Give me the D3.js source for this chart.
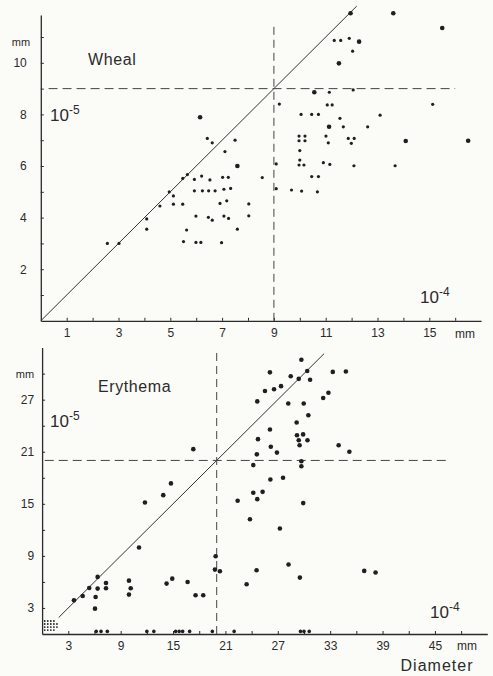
<!DOCTYPE html>
<html lang='en'>
  <meta charset='utf-8'>
  <style>
    body{
      margin: 0;
      background: #fbfbf8;
    }
    svg{
      display: block;
    }
    text{
      font-family: 'Liberation Sans', Arial, sans-serif;
      fill: #2b2b2b;
    }
    .tick text{
      font-size: 12px;
    }
    .tick line, .domain{
      stroke: #2b2b2b;
    }
  </style>
  <body>
    <svg width='493' height='676'></svg>

    <script src='https://cdn.jsdelivr.net/npm/d3@7'></script>
    <script>
      // Wheal: [diameter 10^-4, diameter 10^-5]
      const whealSmall = [
        [2.57,3.0],[3.02,3.0],[4.09,3.95],[4.09,3.55],[4.6,4.45],[4.96,5.0],[5.12,4.84],[5.12,4.52],
        [5.48,5.52],[5.66,5.67],[5.48,4.52],[5.63,3.52],[5.51,3.07],[5.93,5.48],[6.21,5.61],[5.93,5.04],
        [6.24,5.04],[6.53,5.46],[6.48,5.04],[6.73,5.04],[7.02,5.56],[7.24,5.56],[7.07,5.1],[7.33,5.13],
        [7.11,6.56],[7.5,7.0],[6.43,7.07],[6.62,6.9],[6.92,4.55],[7.18,4.65],[5.99,4.06],[7.07,4.06],
        [6.47,4.01],[6.62,3.9],[7.25,3.97],[8.03,4.53],[8.03,4.07],[7.59,3.55],[5.99,3.04],[6.18,3.04],
        [6.98,3.03],[8.55,5.55],[9.09,6.08],[9.09,5.12],[9.21,8.4],[9.68,5.07],[10.07,5.03],[9.97,6.04],
        [10.16,6.04],[10.0,6.23],[10.0,6.6],[9.97,7.16],[10.2,7.16],[9.97,6.98],[10.2,6.98],[10.05,8.0],
        [10.46,8.0],[10.72,8.0],[11.14,8.86],[11.06,8.37],[11.25,8.37],[10.46,5.59],[10.72,5.59],[10.68,5.0],
        [10.91,6.13],[11.16,6.06],[11.01,7.16],[11.1,6.9],[11.55,7.85],[11.68,7.52],[11.87,7.07],[12.1,7.07],
        [11.99,6.88],[12.09,6.01],[12.06,8.95],[12.62,7.52],[13.1,7.97],[13.68,6.01],[15.13,8.39],
        [11.33,10.87],[11.58,10.87],[11.91,10.95],[12.04,10.45]
      ]
      const whealBig = [
        [6.15,7.89],[7.59,6.0],[10.56,8.86],[11.13,7.52],[14.09,6.97],[16.5,6.98],[11.96,11.92],
        [13.61,11.92],[15.5,11.35],[11.51,9.98],[12.29,10.82]
      ]

      // Erythema
      const erythemaBig = [
        [3.65,3.88],[4.65,4.38],[5.4,5.3],[6.36,6.58],[6.36,5.23],[6.13,4.27],[6.06,2.92],[7.32,5.88],
        [7.32,5.27],[9.95,6.15],[10.15,5.27],[9.95,4.54],[11.1,9.96],[11.78,15.15],[13.88,16.0],[14.76,17.35],
        [14.26,5.81],[14.91,6.38],[16.67,6.0],[17.58,4.46],[18.46,4.46],[17.32,21.3],[19.88,8.96],[19.8,7.42],
        [20.37,7.23],[22.4,15.35],[23.43,5.73],[23.81,13.23],[24.19,19.46],[24.19,16.27],[24.65,15.54],
        [25.26,16.38],[24.6,20.7],[24.73,22.45],[24.65,26.8],[24.57,7.35],[25.53,28.0],[26.1,30.15],
        [26.1,23.57],[26.2,21.57],[26.15,17.8],[26.57,28.2],[27.37,28.56],[26.9,20.9],[27.6,18.0],
        [27.24,12.15],[28.2,26.56],[28.23,8.0],[28.48,29.7],[29.7,31.6],[29.16,24.37],[29.2,22.9],
        [29.9,23.0],[29.4,22.33],[30.4,22.33],[29.5,21.75],[29.4,29.4],[29.53,6.5],[29.7,19.9],[29.7,19.33],
        [29.97,26.56],[29.91,15.08],[30.37,30.3],[30.5,25.2],[30.7,29.3],[32.2,27.2],[32.8,27.8],[33.3,30.2],
        [34.8,30.25],[33.97,21.75],[35.2,21.0],[36.9,7.27],[38.2,7.08]
      ]
      const erythemaOnAxis = [
        [6.2,0.3],[6.75,0.3],[7.47,0.3],[12.0,0.3],[12.8,0.3],[15.3,0.3],[15.7,0.3],[16.1,0.3],
        [16.9,0.3],[19.5,0.3],[22.0,0.3],[29.6,0.3],[30.0,0.3],[30.6,0.3]
      ]
      const erythemaTiny = [
        [0.3,0.45],[0.65,0.45],[1.0,0.45],[1.35,0.45],
        [0.3,0.8],[0.65,0.8],[1.0,0.8],[1.35,0.8],[1.7,0.8],
        [0.3,1.15],[0.65,1.15],[1.0,1.15],[1.35,1.15],[1.7,1.15],
        [0.3,1.5],[0.65,1.5],[1.0,1.5],[1.35,1.5]
      ]

      const whealXTicks = d3.range(1, 17)
      const whealYTicks = d3.range(1, 12)
      const erythemaXTicks = d3.range(3, 49, 3)
      const erythemaYTicks = d3.range(3, 31, 3)

      const svg = d3.select('svg')
      svg.append('rect').attr('width', 493).attr('height', 676).attr('fill', '#fbfbf8')

      const drawPanel = (cfg) => {
        const g = svg.append('g')
        const {x, y} = cfg

        g.append('g')
          .attr('transform', `translate(0,${y(0)})`)
          .call(d3.axisBottom(x).tickValues(cfg.xTicks).tickSizeInner(-3).tickSizeOuter(0)
            .tickPadding(cfg.xPad).tickFormat(cfg.xFormat))
        g.append('g')
          .attr('transform', `translate(${x(0)},0)`)
          .call(d3.axisLeft(y).tickValues(cfg.yTicks).tickSizeInner(-3).tickSizeOuter(0)
            .tickPadding(cfg.yPad).tickFormat(cfg.yFormat))
        g.selectAll('.domain').attr('stroke-width', 1.3)

        // mm units
        g.append('text').attr('x', cfg.xUnit[0]).attr('y', cfg.xUnit[1])
          .attr('text-anchor', 'middle').attr('font-size', 12).text('mm')
        g.append('text').attr('x', cfg.yUnit[0]).attr('y', cfg.yUnit[1])
          .attr('text-anchor', 'middle').attr('font-size', 11).text('mm')

        // diagonal and threshold lines
        g.append('line')
          .attr('x1', x(cfg.diag[0])).attr('y1', y(cfg.diag[0]))
          .attr('x2', x(cfg.diag[1])).attr('y2', y(cfg.diag[1]))
          .attr('stroke', '#333').attr('stroke-width', 1)
        g.append('line')
          .attr('x1', x(cfg.cut)).attr('y1', y(0))
          .attr('x2', x(cfg.cut)).attr('y2', y(cfg.vTop))
          .attr('stroke', '#444').attr('stroke-dasharray', '8,5')
        g.append('line')
          .attr('x1', x(0.3)).attr('y1', y(cfg.cut))
          .attr('x2', x(cfg.hEnd)).attr('y2', y(cfg.cut))
          .attr('stroke', '#444').attr('stroke-dasharray', '9,5')

        cfg.dots.forEach(([data, r]) => {
          g.append('g').selectAll('circle')
            .data(data)
            .join('circle')
            .attr('cx', d => x(d[0]))
            .attr('cy', d => y(d[1]))
            .attr('r', r)
            .attr('fill', '#1f1f1f')
        })

        g.append('text').attr('x', cfg.title[0]).attr('y', cfg.title[1])
          .attr('font-size', 16).attr('letter-spacing', 0.6).text(cfg.name)

        cfg.powers.forEach(([px, py, p]) => {
          const t = g.append('text').attr('x', px).attr('y', py).attr('font-size', 17)
          t.append('tspan').text('10')
          t.append('tspan').attr('dy', -7).attr('font-size', 12).text(p)
        })
      }

      drawPanel({
        name: 'Wheal',
        x: d3.scaleLinear([0, 17], [40.8, 481.1]),
        y: d3.scaleLinear([0, 11.85], [320.8, 15.1]),
        xTicks: whealXTicks,
        yTicks: whealYTicks,
        xFormat: d => d % 2 === 1 ? d : '',
        yFormat: d => d % 2 === 0 ? d : '',
        xPad: 8,
        yPad: 14,
        xUnit: [465, 337.5],
        yUnit: [21, 46],
        diag: [0, 12.2],
        cut: 9,
        vTop: 11.55,
        hEnd: 16,
        dots: [[whealSmall, 1.6], [whealBig, 2.3]],
        title: [88, 65],
        powers: [[50, 121, '-5'], [420, 303, '-4']]
      })

      drawPanel({
        name: 'Erythema',
        x: d3.scaleLinear([0, 51], [42.1, 487.3]),
        y: d3.scaleLinear([0, 33], [634, 347.6]),
        xTicks: erythemaXTicks,
        yTicks: erythemaYTicks,
        xFormat: d => d % 6 === 3 ? d : '',
        yFormat: d => d % 6 === 3 ? d : '',
        xPad: 7.5,
        yPad: 8,
        xUnit: [467, 650],
        yUnit: [25, 378],
        diag: [1.9, 32.3],
        cut: 20,
        vTop: 32.5,
        hEnd: 46.3,
        dots: [[erythemaBig, 2.3], [erythemaOnAxis, 1.8], [erythemaTiny, 0.9]],
        title: [98, 392],
        powers: [[50, 427, '-5'], [430, 618, '-4']]
      })

      svg.append('text').attr('x', 437).attr('y', 671)
        .attr('text-anchor', 'middle').attr('font-size', 16).attr('letter-spacing', 1)
        .text('Diameter')
    </script>
  </body>
</html>
